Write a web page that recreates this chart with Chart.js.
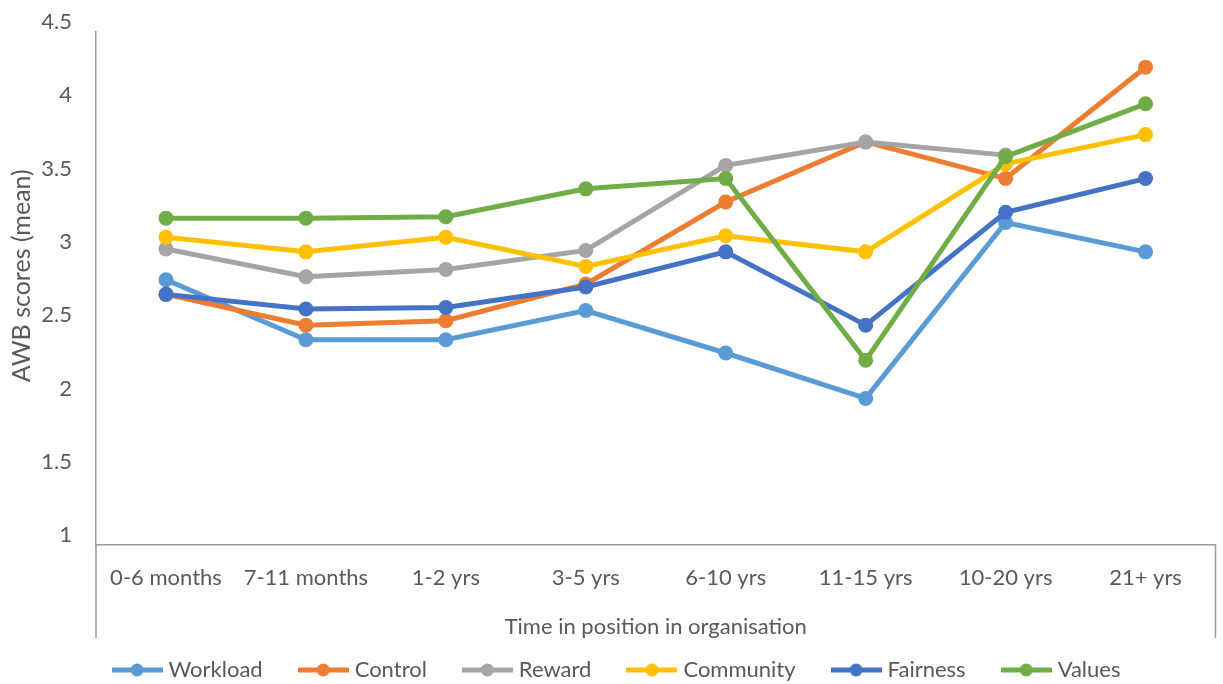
<!DOCTYPE html>
<html>
<head>
<meta charset="utf-8">
<script src="https://cdn.jsdelivr.net/npm/chart.js@4.4.1/dist/chart.umd.min.js"></script>
<style>
  html, body { margin: 0; padding: 0; background: #fff; }
  #wrap { width: 1223px; height: 684px; }
</style>
</head>
<body>
<div id="wrap"><canvas id="chart"></canvas></div>
<script>
// data
const categories = ["0-6 months", "7-11 months", "1-2 yrs", "3-5 yrs", "6-10 yrs", "11-15 yrs", "10-20 yrs", "21+ yrs"];
const workload  = [2.81, 2.40, 2.40, 2.60, 2.31, 2.00, 3.20, 3.00];
const control   = [2.71, 2.50, 2.53, 2.78, 3.34, 3.75, 3.50, 4.26];
const reward    = [3.02, 2.83, 2.88, 3.01, 3.59, 3.75, 3.66, null];
const community = [3.10, 3.00, 3.10, 2.90, 3.11, 3.00, 3.60, 3.80];
const fairness  = [2.71, 2.61, 2.62, 2.76, 3.00, 2.50, 3.27, 3.50];
const values    = [3.23, 3.23, 3.24, 3.43, 3.50, 2.26, 3.65, 4.01];
const yTicks = [1, 1.5, 2, 2.5, 3, 3.5, 4, 4.5];

const seriesNames = ["Workload", "Control", "Reward", "Community", "Fairness", "Values"];
const seriesData = [workload, control, reward, community, fairness, values];
const colors = ["#5B9BD5", "#ED7D31", "#A5A5A5", "#FFC000", "#4472C4", "#70AD47"];

const textColor = "#595959";
const axisColor = "#9a9a9a";
const fontFamily = "Lato, 'Open Sans', sans-serif";

// line + dot icon for the legend
function legendIcon(color) {
  const c = document.createElement("canvas");
  c.width = 51; c.height = 16;
  const g = c.getContext("2d");
  g.strokeStyle = color;
  g.lineWidth = 5;
  g.beginPath(); g.moveTo(0, 8); g.lineTo(51, 8); g.stroke();
  g.fillStyle = color;
  g.beginPath(); g.arc(25.5, 8, 6.5, 0, Math.PI * 2); g.fill();
  return c;
}

// axis lines carried down past the category labels
const axisFrame = {
  id: "axisFrame",
  afterDraw(chart) {
    const { ctx, chartArea } = chart;
    const bottom = chartArea.bottom + 93;
    ctx.save();
    ctx.strokeStyle = axisColor;
    ctx.lineWidth = 1.5;
    ctx.beginPath();
    ctx.moveTo(chartArea.left, chartArea.bottom); ctx.lineTo(chartArea.left, bottom);
    ctx.moveTo(chartArea.right, chartArea.bottom); ctx.lineTo(chartArea.right, bottom);
    ctx.stroke();
    ctx.restore();
  }
};

const datasets = seriesNames.map((name, i) => ({
  label: name,
  data: seriesData[i],
  borderColor: colors[i],
  backgroundColor: colors[i],
  pointBackgroundColor: colors[i],
  pointBorderColor: colors[i],
  borderWidth: 5,
  pointRadius: 7.5,
  pointBorderWidth: 0,
  pointHoverRadius: 7.5,
  order: seriesNames.length - i, // later series drawn on top
  spanGaps: false
}));

new Chart(document.getElementById("chart"), {
  type: "line",
  data: { labels: categories, datasets },
  plugins: [axisFrame],
  options: {
    responsive: true,
    maintainAspectRatio: false,
    animation: false,
    clip: false,
    layout: { padding: { top: 32, left: 16, right: 2, bottom: -7 } },
    plugins: {
      tooltip: { enabled: false },
      legend: {
        position: "bottom",
        labels: {
          usePointStyle: true,
          pointStyleWidth: 41,
          padding: 40,
          color: textColor,
          font: { family: fontFamily, size: 22 },
          generateLabels: (chart) => chart.data.datasets.map((ds, i) => ({
            text: ds.label,
            pointStyle: legendIcon(ds.borderColor),
            fillStyle: ds.borderColor,
            strokeStyle: ds.borderColor,
            lineWidth: 0,
            fontColor: textColor,
            hidden: false,
            datasetIndex: i
          }))
        }
      }
    },
    scales: {
      x: {
        offset: true,
        grid: { display: false, drawTicks: false },
        border: { display: true, color: axisColor, width: 1.5 },
        ticks: { color: textColor, font: { family: fontFamily, size: 22 }, padding: 20, maxRotation: 0, autoSkip: false },
        title: {
          display: true,
          text: "Time in position in organisation",
          color: textColor,
          font: { family: fontFamily, size: 22 },
          padding: { top: 0, bottom: -21 }
        },
        afterFit: (scale) => { scale.height = 74; }
      },
      y: {
        min: 1,
        max: 4.5,
        grid: { display: false, drawTicks: false },
        border: { display: true, color: axisColor, width: 1.5 },
        afterBuildTicks: (scale) => { scale.ticks = yTicks.map(v => ({ value: v })); },
        ticks: {
          color: textColor,
          font: { family: fontFamily, size: 22 },
          padding: 24,
          labelOffset: -10,
          callback: (v) => String(v)
        },
        title: {
          display: true,
          text: "    AWB scores (mean)",
          color: textColor,
          font: { family: fontFamily, size: 25 },
          padding: { top: -9, bottom: 0 }
        },
        afterFit: (scale) => {
          scale.width = 80;
          scale.paddingTop = 0;
          scale.paddingBottom = 0;
        }
      }
    }
  }
});
</script>
</body>
</html>
